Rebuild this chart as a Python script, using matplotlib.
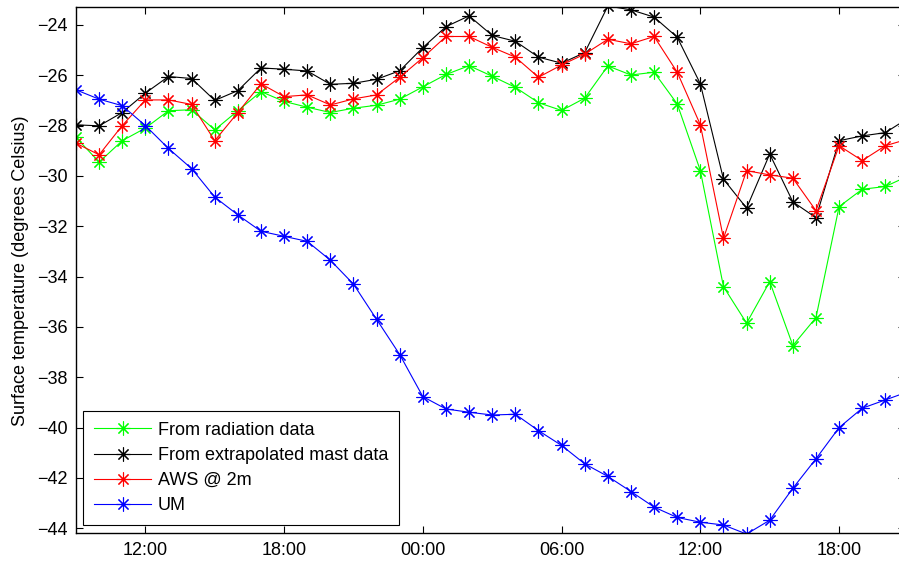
import numpy as np
import matplotlib
matplotlib.use("Agg")
import matplotlib.pyplot as plt

plt.rcParams['font.family'] = ['Liberation Sans', 'DejaVu Sans']

#%% Data (hours counted from 00:00 of the first day, hourly values)
hours = np.arange(9, 46)

radiation = [-28.47, -29.45, -28.60, -28.10, -27.41, -27.37, -28.17, -27.41, -26.65, -27.04,
             -27.27, -27.48, -27.31, -27.19, -26.95, -26.46, -25.97, -25.62, -26.04, -26.48,
             -27.09, -27.40, -26.91, -25.63, -25.99, -25.88, -27.14, -29.79, -34.40, -35.85,
             -34.20, -36.74, -35.63, -31.22, -30.53, -30.42, -30.00]

mast = [-27.97, -28.01, -27.48, -26.71, -26.05, -26.13, -27.00, -26.61, -25.71, -25.76,
        -25.83, -26.36, -26.32, -26.16, -25.82, -24.90, -24.07, -23.64, -24.42, -24.65,
        -25.28, -25.52, -25.10, -23.25, -23.40, -23.69, -24.49, -26.34, -30.13, -31.28,
        -29.13, -31.03, -31.66, -28.60, -28.41, -28.28, -27.70]

aws = [-28.70, -29.16, -28.00, -26.98, -26.98, -27.16, -28.60, -27.48, -26.34, -26.85,
       -26.78, -27.18, -26.94, -26.78, -26.08, -25.30, -24.46, -24.46, -24.89, -25.28,
       -26.08, -25.59, -25.16, -24.57, -24.75, -24.46, -25.88, -27.97, -32.48, -29.79,
       -29.96, -30.09, -31.38, -28.80, -29.39, -28.80, -28.53]

um = [-26.58, -26.95, -27.21, -28.00, -28.91, -29.71, -30.84, -31.55, -32.20, -32.40,
      -32.60, -33.35, -34.30, -35.70, -37.10, -38.77, -39.26, -39.39, -39.50, -39.47,
      -40.12, -40.71, -41.44, -41.94, -42.54, -43.16, -43.57, -43.76, -43.87, -44.23,
      -43.68, -42.41, -41.24, -40.00, -39.23, -38.90, -38.57]

tick_hours = [12, 18, 24, 30, 36, 42]
tick_labels = ["12:00", "18:00", "00:00", "06:00", "12:00", "18:00"]
y_ticks = np.arange(-44, -23, 2)

#%% Plot
fig = plt.figure(figsize=(8.99, 5.63), dpi=100)
# axes run slightly past the right edge of the picture (cropped like the original)
ax = fig.add_axes([76/899, 29.7/563, 829/899, 526/563])

asterisk = (8, 2, 0)
style = dict(lw=0.8, marker=asterisk, ms=10, mew=0.8)
ax.plot(hours, radiation, color=(0, 1, 0), label="From radiation data", **style)
ax.plot(hours, mast, color='k', label="From extrapolated mast data", **style)
ax.plot(hours, aws, color=(1, 0, 0), label="AWS @ 2m", **style)
ax.plot(hours, um, color=(0, 0, 1), label="UM", **style)

ax.set_xlim(9, 20.85 + 24)
ax.set_ylim(-44.2, -23.3)
ax.set_xticks(tick_hours)
ax.set_xticklabels(tick_labels)
ax.set_yticks(y_ticks)
ax.tick_params(direction='in', length=5, width=0.8, labelsize=13,
               top=True, right=True, pad=6)
for sp in ax.spines.values():
    sp.set_linewidth(1.0)

ax.set_ylabel("Surface temperature (degrees Celsius)", fontsize=13, labelpad=6)

leg = ax.legend(loc='lower left', bbox_to_anchor=(0.0088, 0.0158), borderaxespad=0,
                fontsize=13, fancybox=False, edgecolor='k', framealpha=1,
                handlelength=3.15, handletextpad=0.38, borderpad=0.6, labelspacing=0.45)
leg.get_frame().set_linewidth(0.8)

fig.savefig("out.png", dpi=100)
